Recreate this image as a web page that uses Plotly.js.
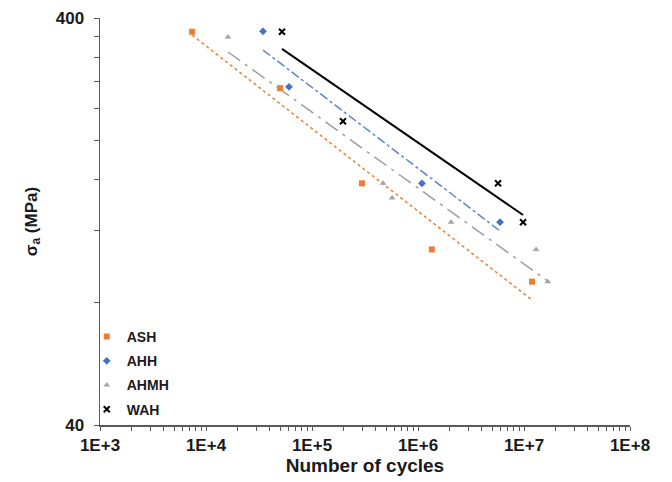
<!DOCTYPE html>
<html>
<head>
<meta charset="utf-8">
<script src="https://cdn.plot.ly/plotly-3.0.1.min.js"></script>
<style>
  html, body { margin: 0; padding: 0; background: #ffffff; }
  #chart { width: 672px; height: 482px; }
</style>
</head>
<body>
<div id="chart"></div>
<script>
// Fatigue test results: stress amplitude vs. number of cycles to failure
const seriesNames = ['ASH', 'AHH', 'AHMH', 'WAH'];

const ashCycles  = [7400, 50000, 296000, 1.35e6, 1.19e7];
const ashStress  = [370, 269, 157, 108, 90];
const ahhCycles  = [34500, 60700, 1.09e6, 5.94e6];
const ahhStress  = [371, 271, 157, 126];
const ahmhCycles = [16100, 468000, 569000, 2.05e6, 1.30e7, 1.68e7];
const ahmhStress = [359, 157, 144.5, 126, 108, 90];
const wahCycles  = [52100, 196000, 5.69e6, 9.8e6];
const wahStress  = [370, 223, 157, 126];

// Power-law trend lines (start and end of each fit)
const ashFitCycles  = [7400, 1.19e7];
const ashFitStress  = [363, 81.1];
const ahhFitCycles  = [34500, 5.94e6];
const ahhFitStress  = [333.7, 119.9];
const ahmhFitCycles = [16100, 1.68e7];
const ahmhFitStress = [330, 90.3];
const wahFitCycles  = [52100, 9.8e6];
const wahFitStress  = [335.8, 131.2];

// Axis ticks
const xTickVals = [1e3, 1e4, 1e5, 1e6, 1e7, 1e8];
const xTickText = ['1E+3', '1E+4', '1E+5', '1E+6', '1E+7', '1E+8'];
const yTickVals = [40, 400];
const yTickText = ['40', '400'];
const yMinorTickVals = [80, 120, 160, 200, 240, 280, 320, 360];

const colors = ['#ED7D31', '#4472C4', '#A5A5A5', '#000000'];
const fitColors = ['#ED7D31', '#5B85CF', '#9E9E9E', '#000000'];
const symbols = ['square', 'diamond', 'triangle-up', 'x-thin-open'];

const pointSets = [
  [ashCycles, ashStress], [ahhCycles, ahhStress],
  [ahmhCycles, ahmhStress], [wahCycles, wahStress]
];
const fitSets = [
  [ashFitCycles, ashFitStress, 'dot', 1.5],
  [ahhFitCycles, ahhFitStress, 'dashdot', 1.5],
  [ahmhFitCycles, ahmhFitStress, 'longdashdot', 1.5],
  [wahFitCycles, wahFitStress, 'solid', 2]
];

const traces = [];
fitSets.forEach((f, i) => {
  traces.push({
    x: f[0], y: f[1], type: 'scatter', mode: 'lines',
    line: { color: fitColors[i], dash: f[2], width: f[3] },
    showlegend: false, hoverinfo: 'skip'
  });
});
pointSets.forEach((p, i) => {
  const isX = symbols[i] === 'x-thin-open';
  traces.push({
    x: p[0], y: p[1], type: 'scatter', mode: 'markers', name: seriesNames[i],
    legendgroup: seriesNames[i],
    marker: {
      color: colors[i], symbol: symbols[i], size: 6,
      line: { color: colors[i], width: isX ? 2 : 0 }
    }
  });
});

const fontFamily = '"Liberation Sans", Arial, sans-serif';

const layout = {
  width: 672, height: 482,
  margin: { l: 100, r: 42, t: 18, b: 57 },
  paper_bgcolor: '#ffffff', plot_bgcolor: '#ffffff',
  font: { family: fontFamily, color: '#1a1a1a', size: 14 },
  showlegend: true,
  legend: {
    x: -0.025, y: 0.0, xanchor: 'left', yanchor: 'bottom',
    bgcolor: 'rgba(0,0,0,0)', borderwidth: 0,
    font: { family: fontFamily, size: 14, weight: 'bold', color: '#1a1a1a' },
    itemwidth: 30, tracegroupgap: 3
  },
  xaxis: {
    type: 'log', range: [3, 8],
    tickmode: 'array', tickvals: xTickVals, ticktext: xTickText,
    tickfont: { family: fontFamily, size: 17, weight: 'bold', color: '#1a1a1a' },
    ticks: 'outside', ticklen: 4, tickwidth: 1, tickcolor: '#595959',
    minor: { dtick: 'D1', ticks: 'outside', ticklen: 4, tickwidth: 1, tickcolor: '#595959', showgrid: false },
    showline: true, linecolor: '#595959', linewidth: 1.5,
    showgrid: false, zeroline: false,
    title: { text: 'Number of cycles', standoff: 2,
      font: { family: fontFamily, size: 19, weight: 'bold', color: '#1a1a1a' } }
  },
  yaxis: {
    type: 'log', range: [Math.log10(40), Math.log10(400)],
    tickmode: 'array', tickvals: yTickVals, ticktext: yTickText,
    tickfont: { family: fontFamily, size: 17, weight: 'bold', color: '#1a1a1a' },
    ticks: 'outside', ticklen: 5, tickwidth: 1, tickcolor: '#595959',
    ticklabelstandoff: 6,
    minor: { tickmode: 'array', tickvals: yMinorTickVals, ticks: 'outside', ticklen: 5, tickwidth: 1, tickcolor: '#595959', showgrid: false },
    showline: true, linecolor: '#595959', linewidth: 1.5,
    showgrid: false, zeroline: false,
    title: { text: 'σ<sub>a</sub> (MPa)', standoff: 14,
      font: { family: fontFamily, size: 17, weight: 'bold', color: '#1a1a1a' } }
  }
};

Plotly.newPlot('chart', traces, layout, { displayModeBar: false, staticPlot: true });
</script>
</body>
</html>
